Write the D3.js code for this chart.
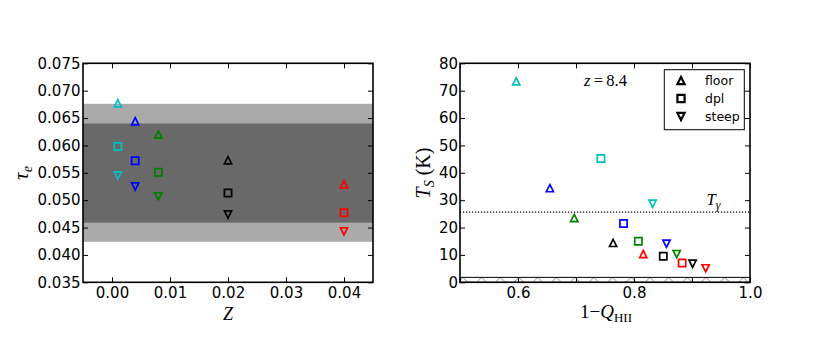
<!DOCTYPE html>
<html><head><meta charset="utf-8">
<script src="https://cdn.jsdelivr.net/npm/d3@7"></script>
<style>body{margin:0;background:#fff} svg{display:block}</style>
</head><body>
<svg id="c" width="814" height="354"></svg>
<script>
// ---------- data ----------
const seriesColors = ["#00bfbf", "#0000ff", "#008000", "#000000", "#ff0000"];
const metallicity = [0.001, 0.004, 0.008, 0.02, 0.04];
const tauFloor = [0.0677, 0.0644, 0.0620, 0.0573, 0.0529];
const tauDpl   = [0.0598, 0.0572, 0.0551, 0.0513, 0.0477];
const tauSteep = [0.0545, 0.0525, 0.0507, 0.0474, 0.0443];

const xhiFloor = [0.597, 0.655, 0.697, 0.764, 0.816];
const tsFloor  = [73.4, 34.4, 23.5, 14.4, 10.3];
const xhiDpl   = [0.743, 0.782, 0.8075, 0.8505, 0.883];
const tsDpl    = [45.2, 21.5, 15.0, 9.5, 7.05];
const xhiSteep = [0.832, 0.856, 0.8736, 0.901, 0.9236];
const tsSteep  = [28.7, 14.1, 10.3, 6.8, 5.1];

const bandLo = [0.0424, 0.0459];
const bandHi = [0.0676, 0.0640];
const bandColors = ["#aaaaaa", "#696969"];

const tGamma = 25.6;
const hatchTop = 1.8;

const xTicksL = [0, 0.01, 0.02, 0.03, 0.04];
const yTicksL = [0.035, 0.040, 0.045, 0.050, 0.055, 0.060, 0.065, 0.070, 0.075];
const xTicksR = [0.5, 0.6, 0.7, 0.8, 0.9, 1.0];
const xLabelsR = [0.6, 0.8, 1.0];
const yTicksR = [0, 10, 20, 30, 40, 50, 60, 70, 80];
const legendLabels = ["floor", "dpl", "steep"];
const markerKinds = ["up", "square", "down"];

// ---------- layout ----------
const svg = d3.select("#c");
const yTop = 63.3, yBot = 282.3;
const L = {x0: 83, x1: 373};
const R = {x0: 460, x1: 750};
const xL = d3.scaleLinear([-0.005, 0.045], [L.x0, L.x1]);
const yL = d3.scaleLinear([0.035, 0.075], [yBot, yTop]);
const xR = d3.scaleLinear([0.5, 1.0], [R.x0, R.x1]);
const yR = d3.scaleLinear([0, 80], [yBot, yTop]);

const s = 3.6;
function markerPath(kind) {
  if (kind === "up") return `M0,${-s}L${s},${s}L${-s},${s}Z`;
  if (kind === "down") return `M0,${s}L${s},${-s}L${-s},${-s}Z`;
  return `M${-s},${-s}H${s}V${s}H${-s}Z`;
}
function drawMarkers(g, xs, ys, kind, xsc, ysc) {
  g.selectAll(null).data(xs).enter().append("path")
    .attr("d", markerPath(kind))
    .attr("transform", (d, i) => `translate(${xsc(d)},${ysc(ys[i])})`)
    .attr("fill", "none")
    .attr("stroke", (d, i) => seriesColors[i])
    .attr("stroke-width", 1.7)
    .attr("stroke-linejoin", "miter");
}

const defs = svg.append("defs");

// ---------- left panel ----------
const gL = svg.append("g");
gL.selectAll("rect.band").data(bandLo).enter().append("rect")
  .attr("x", L.x0).attr("width", L.x1 - L.x0)
  .attr("y", (d, i) => yL(bandHi[i]))
  .attr("height", (d, i) => yL(d) - yL(bandHi[i]))
  .attr("fill", (d, i) => bandColors[i]);

drawMarkers(gL, metallicity, tauFloor, "up", xL, yL);
drawMarkers(gL, metallicity, tauDpl, "square", xL, yL);
drawMarkers(gL, metallicity, tauSteep, "down", xL, yL);

// ---------- right panel ----------
const gR = svg.append("g");
const hatchY0 = yR(hatchTop), hatchY1 = yR(0);
const hh = hatchY1 - hatchY0;
const pat = defs.append("pattern").attr("id", "hatch")
  .attr("patternUnits", "userSpaceOnUse")
  .attr("x", R.x0 - 2).attr("y", hatchY0)
  .attr("width", 18.7).attr("height", hh);
pat.append("path").attr("d", `M0,${hh}L${hh},0L${2 * hh},${hh}`)
  .attr("fill", "none").attr("stroke", "#808080").attr("stroke-width", 0.9);
gR.append("rect").attr("x", R.x0).attr("width", R.x1 - R.x0)
  .attr("y", hatchY0).attr("height", hh)
  .attr("fill", "url(#hatch)").attr("stroke", "#000").attr("stroke-width", 1);

gR.append("line").attr("x1", R.x0).attr("x2", R.x1)
  .attr("y1", yR(tGamma)).attr("y2", yR(tGamma))
  .attr("stroke", "#000").attr("stroke-width", 1.2).attr("stroke-dasharray", "1.2,1.8");

drawMarkers(gR, xhiFloor, tsFloor, "up", xR, yR);
drawMarkers(gR, xhiDpl, tsDpl, "square", xR, yR);
drawMarkers(gR, xhiSteep, tsSteep, "down", xR, yR);

// ---------- axes ----------
const tickFont = "DejaVu Sans, sans-serif";
function styleAxis(g) {
  g.select(".domain").remove();
  g.selectAll(".tick line").attr("stroke", "#000").attr("stroke-width", 1);
  g.selectAll(".tick text").attr("font-family", tickFont).attr("font-size", 15).attr("fill", "#000");
}
const fmt2 = d3.format(".2f"), fmt3 = d3.format(".3f");
svg.append("g").attr("transform", `translate(0,${yBot})`)
  .call(d3.axisBottom(xL).tickValues(xTicksL).tickFormat(fmt2).tickSize(-5).tickPadding(5)).call(styleAxis);
svg.append("g").attr("transform", `translate(0,${yTop})`)
  .call(d3.axisTop(xL).tickValues(xTicksL).tickFormat("").tickSize(-5)).call(styleAxis);
svg.append("g").attr("transform", `translate(${L.x0},0)`)
  .call(d3.axisLeft(yL).tickValues(yTicksL).tickFormat(fmt3).tickSize(-5).tickPadding(2.5)).call(styleAxis);
svg.append("g").attr("transform", `translate(${L.x1},0)`)
  .call(d3.axisRight(yL).tickValues(yTicksL).tickFormat("").tickSize(-5)).call(styleAxis);
const near = (a, b) => Math.abs(a - b) < 1e-9;
svg.append("g").attr("transform", `translate(0,${yBot})`)
  .call(d3.axisBottom(xR).tickValues(xTicksR)
    .tickFormat(d => xLabelsR.some(v => near(v, d)) ? d3.format(".1f")(d) : "")
    .tickSize(-5).tickPadding(5)).call(styleAxis);
svg.append("g").attr("transform", `translate(0,${yTop})`)
  .call(d3.axisTop(xR).tickValues(xTicksR).tickFormat("").tickSize(-5)).call(styleAxis);
svg.append("g").attr("transform", `translate(${R.x0},0)`)
  .call(d3.axisLeft(yR).tickValues(yTicksR).tickFormat(d3.format("d")).tickSize(-5).tickPadding(2)).call(styleAxis);
svg.append("g").attr("transform", `translate(${R.x1},0)`)
  .call(d3.axisRight(yR).tickValues(yTicksR).tickFormat("").tickSize(-5)).call(styleAxis);

[L, R].forEach(p => svg.append("rect")
  .attr("x", p.x0).attr("y", yTop).attr("width", p.x1 - p.x0).attr("height", yBot - yTop)
  .attr("fill", "none").attr("stroke", "#000").attr("stroke-width", 1.6));

// ---------- labels ----------
const serif = "Liberation Serif, Times New Roman, serif";
const tl = svg.append("text").attr("transform", "translate(28,173) rotate(-90)")
  .attr("text-anchor", "middle").attr("font-family", serif).attr("font-size", 21).attr("font-style", "italic");
tl.append("tspan").text("τ");
tl.append("tspan").attr("font-size", 14).attr("dy", 4).text("e");

svg.append("text").attr("x", 228).attr("y", 320).attr("text-anchor", "middle")
  .attr("font-family", serif).attr("font-size", 18).attr("font-style", "italic").text("Z");

const ts = svg.append("text").attr("transform", "translate(430,173) rotate(-90)")
  .attr("text-anchor", "middle").attr("font-family", serif).attr("font-size", 20);
ts.append("tspan").attr("font-style", "italic").text("T");
ts.append("tspan").attr("font-style", "italic").attr("font-size", 14).attr("dy", 4).text("S");
ts.append("tspan").attr("dy", -4).text(" (K)");

const xq = svg.append("text").attr("x", 606).attr("y", 318).attr("text-anchor", "middle")
  .attr("font-family", serif).attr("font-size", 19);
xq.append("tspan").text("1−");
xq.append("tspan").attr("font-style", "italic").text("Q");
xq.append("tspan").attr("font-size", 13).attr("dy", 4).text("HII");

const zt = svg.append("text").attr("x", 584).attr("y", 86.3)
  .attr("font-family", serif).attr("font-size", 16.5);
zt.append("tspan").attr("font-style", "italic").text("z");
zt.append("tspan").text("\u2009=\u20098.4");

const tg = svg.append("text").attr("x", 706.5).attr("y", 204.7)
  .attr("font-family", serif).attr("font-size", 16.5).attr("font-style", "italic");
tg.append("tspan").text("T");
tg.append("tspan").attr("font-size", 12).attr("dy", 4).text("γ");

// ---------- legend ----------
const lg = svg.append("g");
lg.append("rect").attr("x", 664.3).attr("y", 69.7).attr("width", 80).attr("height", 60)
  .attr("fill", "#fff").attr("stroke", "#000").attr("stroke-width", 1);
const rowY = d3.scalePoint(legendLabels, [80.5, 116.5]);
legendLabels.forEach((lab, i) => {
  lg.append("path").attr("d", markerPath(markerKinds[i]))
    .attr("transform", `translate(681,${rowY(lab)})`)
    .attr("fill", "none").attr("stroke", "#000").attr("stroke-width", 2.2);
  lg.append("text").attr("x", 705).attr("y", rowY(lab)).attr("dy", "0.35em")
    .attr("font-family", tickFont).attr("font-size", 12.5).text(lab);
});
</script>
</body></html>
